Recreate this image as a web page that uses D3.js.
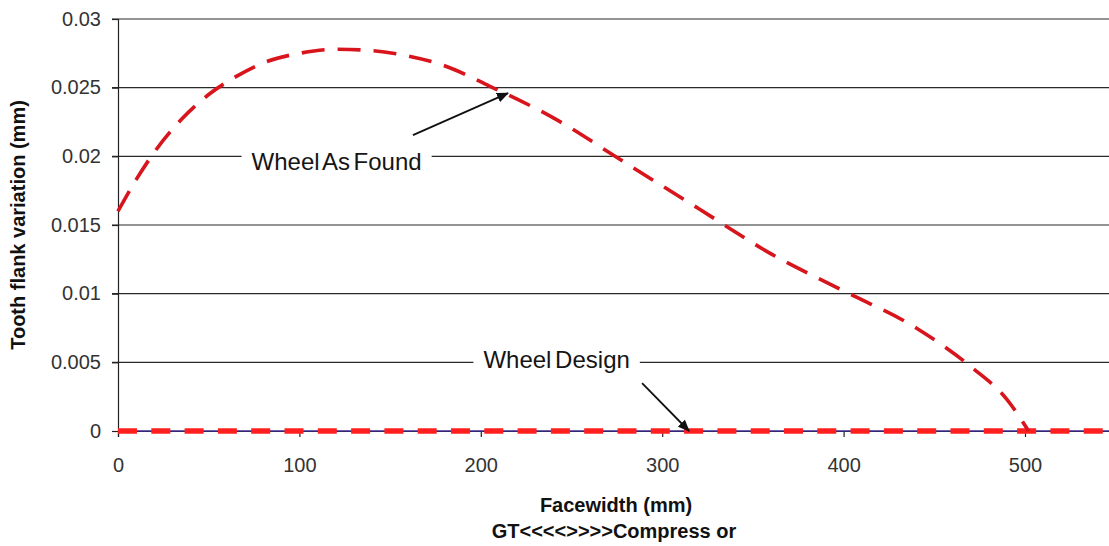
<!DOCTYPE html>
<html><head><meta charset="utf-8">
<script src="https://cdn.jsdelivr.net/npm/d3@7"></script>
<style>
html,body{margin:0;padding:0;background:#fff;}
svg{display:block;font-family:"Liberation Sans",Arial,sans-serif;}
</style></head>
<body><svg id="chart" width="1109" height="546"></svg>
<script>
// ---- data ----
const facewidth = [0, 10, 20, 35, 50, 65, 80, 100, 120, 140, 160, 180, 205, 240, 280, 320, 360, 400, 440, 470, 490, 502];
const asFound   = [0.0160, 0.0183, 0.0203, 0.0227, 0.0245, 0.0258, 0.0268, 0.0275, 0.0278, 0.0277, 0.0273, 0.0266, 0.0251, 0.0228, 0.0195, 0.0162, 0.0129, 0.0102, 0.0075, 0.0047, 0.0023, 0.0000];
const designX   = [0, 100, 200, 300, 400, 500, 600];
const design    = [0, 0, 0, 0, 0, 0, 0];
const xTicks    = [0, 100, 200, 300, 400, 500];
const yTicks    = [0, 0.005, 0.01, 0.015, 0.02, 0.025, 0.03];
const yTickLabels = ["0", "0.005", "0.01", "0.015", "0.02", "0.025", "0.03"];
const xTitle = "Facewidth (mm)";
const xSubTitle = "GT<<<<>>>>Compress or";
const yTitle = "Tooth flank variation (mm)";
const labels = [
  {text: "Wheel As Found", x: 120.5, y: 0.019, tail: [162.6, 0.02154], tip: [215, 0.0246]},
  {text: "Wheel Design", x: 241.8, y: 0.00459, tail: [288.9, 0.00349], tip: [314.8, 0.0]}
];

// ---- layout ----
const svg = d3.select("#chart");
const x = d3.scaleLinear().domain([0, 600]).range([118, 118 + 600 * 1.814]);
const y = d3.scaleLinear().domain([0, 0.03]).range([431, 19]);

// gridlines
svg.append("g").selectAll("line").data(yTicks.slice(1)).join("line")
  .attr("x1", 112).attr("x2", 1109)
  .attr("y1", d => y(d)).attr("y2", d => y(d))
  .attr("stroke", "#2a2a2a").attr("stroke-width", 1.2);

// y axis
const yAxis = d3.axisLeft(y).tickValues(yTicks).tickSize(6)
  .tickFormat((d, i) => yTickLabels[i]);
const gy = svg.append("g").attr("transform", "translate(118,0)").call(yAxis);
gy.select(".domain").attr("stroke", "#222").attr("stroke-width", 1.2);
gy.selectAll(".tick line").attr("stroke", "#222").attr("stroke-width", 1.2);
gy.selectAll(".tick text").attr("x", -17).attr("dy", "0.3em")
  .attr("font-size", 20).attr("fill", "#333").attr("font-family", "Liberation Sans, Arial");

// x axis
const xAxis = d3.axisBottom(x).tickValues(xTicks).tickSize(6);
const gx = svg.append("g").attr("transform", "translate(0,431)").call(xAxis);
gx.select(".domain").attr("stroke", "#222").attr("stroke-width", 1.2);
gx.selectAll(".tick line").attr("stroke", "#222").attr("stroke-width", 1.2);
gx.selectAll(".tick text").attr("dy", null)
  .attr("font-size", 20).attr("fill", "#333").attr("font-family", "Liberation Sans, Arial")
  .attr("y", 41);

// design line (navy) + thick red dashes
const designData = designX.map((d, i) => [d, design[i]]);
const lineGen = d3.line().x(d => x(d[0])).y(d => y(d[1]));
svg.append("path").datum(designData).attr("d", lineGen)
  .attr("fill", "none").attr("stroke", "#3a2a8c").attr("stroke-width", 1.6);
svg.append("path").datum(designData).attr("d", lineGen)
  .attr("fill", "none").attr("stroke", "#ff1f1f").attr("stroke-width", 5.5)
  .attr("stroke-dasharray", "19,14.3");

// as found curve
const foundData = facewidth.map((d, i) => [d, asFound[i]]);
const curveGen = d3.line().curve(d3.curveMonotoneX).x(d => x(d[0])).y(d => y(d[1]));
svg.append("path").datum(foundData).attr("d", curveGen)
  .attr("fill", "none").attr("stroke", "#d8141c").attr("stroke-width", 3.6)
  .attr("stroke-dasharray", "23,13");

// arrow marker
svg.append("defs").append("marker").attr("id", "arr")
  .attr("viewBox", "0 0 12 10").attr("refX", 11).attr("refY", 5)
  .attr("markerWidth", 12).attr("markerHeight", 10).attr("markerUnits", "userSpaceOnUse")
  .attr("orient", "auto")
  .append("path").attr("d", "M0,0 L12,5 L0,10 Z").attr("fill", "#111");

// annotations
const ann = svg.append("g").selectAll("g").data(labels).join("g");
ann.each(function(d) {
  const g = d3.select(this);
  const t = g.append("text").attr("x", x(d.x)).attr("y", y(d.y))
    .attr("text-anchor", "middle").attr("font-size", 24).attr("word-spacing", -3)
    .attr("fill", "#151515").text(d.text);
  const bb = t.node().getBBox();
  g.insert("rect", "text").attr("x", bb.x - 10).attr("y", bb.y + 2)
    .attr("width", bb.width + 20).attr("height", bb.height - 4).attr("fill", "#fff");
  g.append("line").attr("x1", x(d.tail[0])).attr("y1", y(d.tail[1]))
    .attr("x2", x(d.tip[0])).attr("y2", y(d.tip[1]))
    .attr("stroke", "#111").attr("stroke-width", 1.8).attr("marker-end", "url(#arr)");
});

// titles
svg.append("text").attr("x", 616).attr("y", 512).attr("text-anchor", "middle")
  .attr("font-size", 20).attr("font-weight", "bold").attr("fill", "#111").text(xTitle);
svg.append("text").attr("x", 614).attr("y", 538).attr("text-anchor", "middle")
  .attr("font-size", 20).attr("font-weight", "bold").attr("fill", "#111").text(xSubTitle);
svg.append("text").attr("transform", "translate(25,225) rotate(-90)").attr("text-anchor", "middle")
  .attr("font-size", 20).attr("font-weight", "bold").attr("fill", "#111").text(yTitle);
</script></body></html>
